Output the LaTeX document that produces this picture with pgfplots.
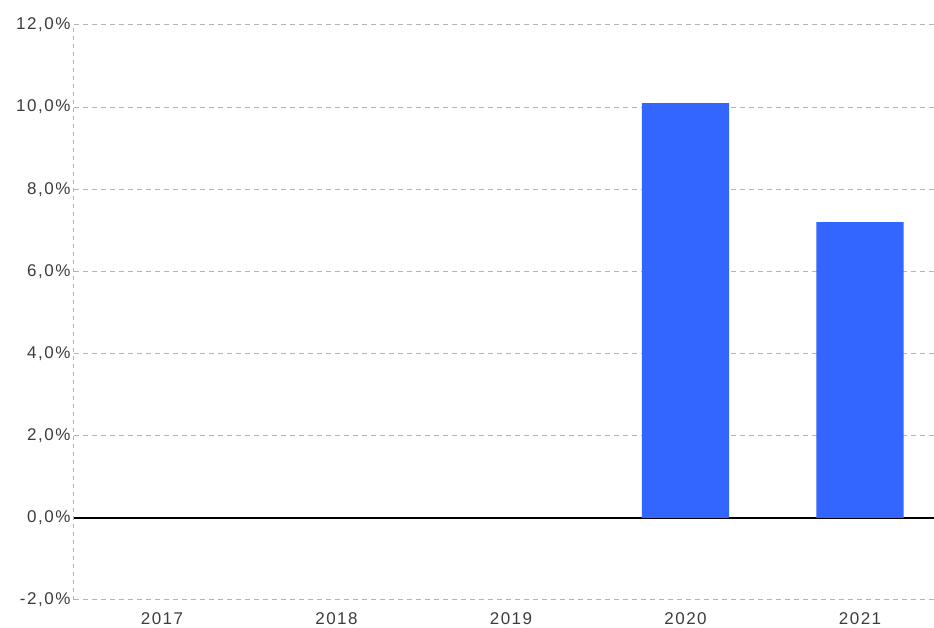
\documentclass[border=0pt]{standalone}
\usepackage{pgfplots}
\pgfplotsset{compat=1.18}
\usepackage{fontspec}
\setmainfont[LetterSpace=9]{Liberation Sans}
\definecolor{barblue}{HTML}{3366FF}
\definecolor{labgray}{HTML}{3C3C3C}
\definecolor{gridgray}{HTML}{B4B4B4}
\begin{document}
\begin{tikzpicture}
\begin{axis}[
  at={(0pt,0pt)}, anchor=south west,
  scale only axis,
  width=860pt, height=575pt,
  xmin=-0.504, xmax=4.424,
  ymin=-2, ymax=12,
  axis x line=none,
  axis y line*=left,
  y axis line style={draw=gridgray, dashed, dash pattern=on 4pt off 4pt, line width=1pt},
  xtick={0,1,2,3,4},
  ytick={-2,0,2,4,6,8,10,12},
  yticklabels={{-2,0\%},{0,0\%},{2,0\%},{4,0\%},{6,0\%},{8,0\%},{10,0\%},{12,0\%}},
  major tick length=0pt,
  ymajorgrids,
  grid style={draw=gridgray, dash pattern=on 5pt off 4pt, line width=1pt},
  extra y ticks={0},
  extra y tick labels={},
  extra y tick style={grid style={draw=black, solid, line width=1.4pt}},
  yticklabel style={font=\fontsize{17}{17}\selectfont, text=labgray, anchor=east, xshift=0pt},
  clip=false,
]
\addplot[ybar, bar width=0.5, fill=barblue, draw=none] coordinates {(3,10.1) (4,7.2)};
\end{axis}
\foreach \x/\l in {0/2017,1/2018,2/2019,3/2020,4/2021}{
  \node[font=\fontsize{17}{17}\selectfont, text=labgray, anchor=base] at ({88pt+\x*174.5pt},-25pt) {\l};
}
\pgfresetboundingbox
\path[use as bounding box] (-74pt,-28pt) rectangle (860pt,600pt);
\end{tikzpicture}
\end{document}
